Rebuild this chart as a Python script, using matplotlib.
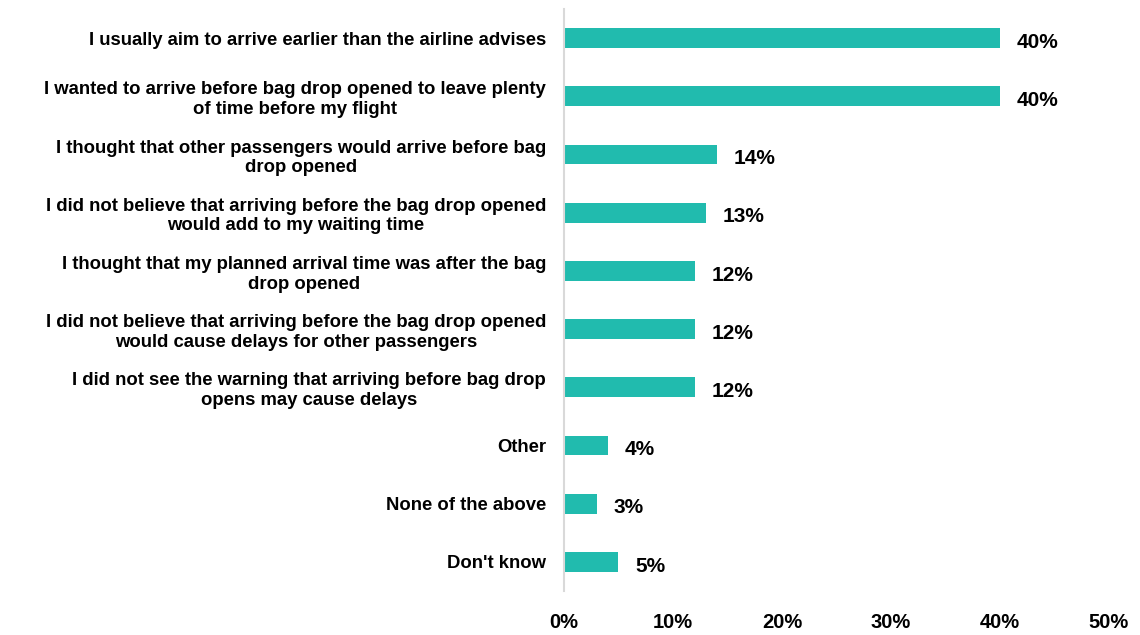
import matplotlib
matplotlib.use('Agg')
import matplotlib.pyplot as plt

# Survey responses: reasons for arriving before bag drop opened
reasons = [
    "I usually aim to arrive earlier than the airline advises",
    "I wanted to arrive before bag drop opened to leave plenty\nof time before my flight",
    "I thought that other passengers would arrive before bag\ndrop opened",
    "I did not believe that arriving before the bag drop opened\nwould add to my waiting time",
    "I thought that my planned arrival time was after the bag\ndrop opened",
    "I did not believe that arriving before the bag drop opened\nwould cause delays for other passengers",
    "I did not see the warning that arriving before bag drop\nopens may cause delays",
    "Other",
    "None of the above",
    "Don't know",
]
shares = [40, 40, 14, 13, 12, 12, 12, 4, 3, 5]
xticks = [0, 10, 20, 30, 40, 50]

plt.rcParams['font.family'] = ['Liberation Sans', 'DejaVu Sans']
teal = '#21BBAE'

fig = plt.figure(figsize=(11.4, 6.35), dpi=100)
ax = fig.add_axes([0.4947, 0.0693, 0.4781, 0.9165])

ypos = list(range(len(reasons)))
ax.barh(ypos, shares, height=0.34, color=teal)
ax.set_ylim(len(reasons) - 0.5, -0.5)
ax.set_xlim(0, 50)

# value labels next to each bar
for y, v in zip(ypos, shares):
    ax.annotate(f'{v}%', (v, y), xytext=(12, -3), textcoords='offset points',
                ha='left', va='center', fontsize=15, fontweight='bold')

ax.set_yticks(ypos)
ax.set_yticklabels(reasons, fontsize=13.3, fontweight='bold',
                   multialignment='center', linespacing=1.2)
ax.tick_params(axis='y', length=0, pad=13)

ax.set_xticks(xticks)
ax.set_xticklabels([f'{t}%' for t in xticks], fontsize=14.5, fontweight='bold')
ax.tick_params(axis='x', length=0, pad=16)

for s in ['top', 'right', 'bottom']:
    ax.spines[s].set_visible(False)
ax.spines['left'].set_color('#D9D9D9')
ax.spines['left'].set_linewidth(1.5)

plt.savefig('out.png', dpi=100)
